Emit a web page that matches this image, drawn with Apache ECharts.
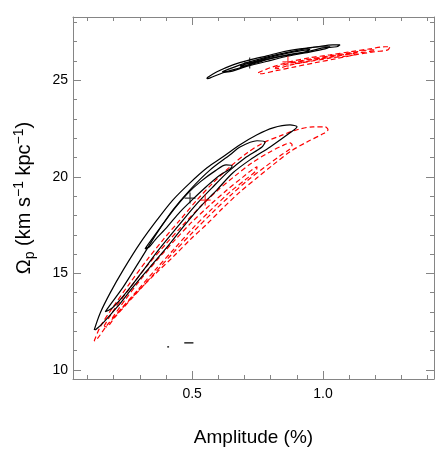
<!DOCTYPE html>
<html><head><meta charset="utf-8">
<script src="https://cdn.jsdelivr.net/npm/echarts@6/dist/echarts.min.js"></script>
<style>html,body{margin:0;padding:0;background:#fff}#c{width:436px;height:460px}</style>
</head><body><div id="c"></div>
<script>
// ---- tick labels ----
var xMajorTicks = [0.5, 1.0];
var xMinorTicks = [0.1,0.2,0.3,0.4,0.5,0.6,0.7,0.8,0.9,1.0,1.1,1.2,1.3,1.4];
var yMajorTicks = [10, 15, 20, 25];
var yMinorTicks = [10,11,12,13,14,15,16,17,18,19,20,21,22,23,24,25,26,27,28];

// ---- black (solid) contours, lower cluster ----
var blackLowOuter = [[0.126,12.07],[0.149,12.95],[0.187,13.99],[0.237,15.18],[0.302,16.58],[0.366,17.77],[0.427,18.81],[0.492,19.69],[0.557,20.47],[0.618,21.04],[0.683,21.66],[0.748,22.18],[0.809,22.54],[0.874,22.69],[0.901,22.59],[0.874,22.28],[0.798,21.55],[0.721,20.88],[0.656,20.21],[0.595,19.33],[0.531,18.45],[0.466,17.41],[0.405,16.37],[0.340,15.34],[0.275,14.30],[0.214,13.26],[0.160,12.44],[0.130,12.07]];
var blackLowMid = [[0.168,13.01],[0.187,13.37],[0.237,14.30],[0.302,15.70],[0.366,17.10],[0.427,18.29],[0.492,19.33],[0.569,20.36],[0.645,21.14],[0.683,21.55],[0.748,21.87],[0.779,21.81],[0.767,21.55],[0.702,20.98],[0.637,20.26],[0.576,19.43],[0.511,18.50],[0.447,17.46],[0.378,16.32],[0.309,15.08],[0.244,13.94],[0.195,13.21],[0.168,13.01]];
var blackLowInner = [[0.320,16.27],[0.336,16.58],[0.389,17.56],[0.435,18.39],[0.485,19.17],[0.531,19.74],[0.588,20.31],[0.630,20.62],[0.653,20.57],[0.645,20.41],[0.607,20.10],[0.557,19.53],[0.504,18.86],[0.454,18.19],[0.405,17.41],[0.359,16.74],[0.336,16.37],[0.320,16.27]];
var blackDot = [[0.405,11.19],[0.412,11.19]];
var blackDash = [[0.470,11.40],[0.505,11.40]];

// ---- red (dashed) contours, lower cluster ----
var redLowOuter = [[0.126,11.50],[0.149,12.23],[0.198,13.26],[0.263,14.51],[0.328,15.70],[0.389,16.74],[0.454,17.77],[0.519,18.81],[0.580,19.69],[0.645,20.52],[0.710,21.24],[0.771,21.76],[0.836,22.12],[0.901,22.44],[0.962,22.59],[1.008,22.59],[1.019,22.44],[1.000,22.23],[0.939,21.81],[0.874,21.30],[0.809,20.62],[0.748,19.95],[0.683,19.22],[0.618,18.39],[0.557,17.56],[0.492,16.74],[0.427,15.85],[0.359,14.97],[0.290,14.04],[0.237,13.26],[0.176,12.33],[0.137,11.60],[0.126,11.50]];
var redLowMid = [[0.164,12.28],[0.206,13.21],[0.263,14.25],[0.328,15.39],[0.397,16.48],[0.462,17.46],[0.531,18.45],[0.595,19.27],[0.664,20.05],[0.729,20.73],[0.790,21.24],[0.844,21.61],[0.874,21.76],[0.882,21.66],[0.874,21.45],[0.836,21.09],[0.779,20.52],[0.714,19.84],[0.645,19.02],[0.576,18.13],[0.504,17.15],[0.427,16.06],[0.351,14.92],[0.275,13.78],[0.206,12.75],[0.172,12.23],[0.164,12.28]];
var redLowInner = [[0.195,12.69],[0.244,13.63],[0.302,14.66],[0.370,15.75],[0.435,16.74],[0.500,17.67],[0.569,18.55],[0.634,19.33],[0.695,20.00],[0.733,20.41],[0.748,20.52],[0.744,20.31],[0.702,19.84],[0.645,19.22],[0.576,18.34],[0.504,17.36],[0.435,16.32],[0.359,15.18],[0.286,14.04],[0.225,13.11],[0.198,12.69],[0.195,12.69]];

// ---- black contours, upper cluster ----
var blackUpOuter = [[0.557,25.13],[0.595,25.44],[0.656,25.80],[0.721,26.06],[0.786,26.27],[0.847,26.48],[0.912,26.63],[0.977,26.74],[1.038,26.84],[1.065,26.84],[1.053,26.74],[1.000,26.68],[0.939,26.48],[0.874,26.32],[0.809,26.17],[0.748,25.91],[0.683,25.65],[0.618,25.39],[0.569,25.13],[0.557,25.08],[0.557,25.13]];
var blackUpMid = [[0.615,25.44],[0.683,25.80],[0.760,26.11],[0.836,26.37],[0.912,26.58],[0.989,26.74],[1.027,26.74],[1.008,26.63],[0.931,26.42],[0.855,26.22],[0.779,25.96],[0.702,25.70],[0.637,25.44],[0.615,25.44]];
var blackUpInner = [[0.683,25.75],[0.740,25.98],[0.800,26.20],[0.870,26.42],[0.950,26.60],[0.940,26.50],[0.870,26.33],[0.800,26.12],[0.740,25.92],[0.690,25.72],[0.683,25.75]];

// ---- red contours, upper cluster ----
var redUpOuter = [[0.752,25.39],[0.798,25.65],[0.874,25.96],[0.950,26.17],[1.027,26.32],[1.103,26.48],[1.179,26.63],[1.237,26.74],[1.256,26.74],[1.248,26.58],[1.198,26.48],[1.122,26.32],[1.046,26.11],[0.969,25.91],[0.893,25.70],[0.817,25.49],[0.760,25.34],[0.752,25.39]];
var redUpMid = [[0.817,25.65],[0.870,25.88],[0.950,26.10],[1.030,26.28],[1.110,26.44],[1.190,26.58],[1.200,26.55],[1.110,26.38],[1.030,26.20],[0.950,26.00],[0.870,25.78],[0.820,25.60],[0.817,25.65]];
var redUpInner = [[0.880,25.90],[0.950,26.06],[1.030,26.24],[1.120,26.40],[1.120,26.34],[1.030,26.16],[0.950,25.98],[0.890,25.86],[0.880,25.90]];

// ---- best-fit markers ----
var blackBest = [[0.492,18.90],[0.720,25.90]];
var redBest = [[0.550,18.80],[0.866,25.96]];

var FRAME = '#858585';
var FONT = 'Liberation Sans';

function contour(data, color, dashed) {
  return {
    type: 'line', data: data, xAxisIndex: 0, yAxisIndex: 0,
    showSymbol: false, symbol: 'none', smooth: 0.3, silent: true,
    lineStyle: { color: color, width: 1.2, type: dashed ? [5, 3] : 'solid' },
    z: dashed ? 3 : 4
  };
}
function marks(data, color) {
  return {
    type: 'scatter', data: data, xAxisIndex: 0, yAxisIndex: 0,
    symbol: 'path://M0,5L10,5M5,0L5,10', symbolSize: 11, silent: true,
    itemStyle: { color: 'none', borderColor: color, borderWidth: 1.2 }, z: 5
  };
}
function xAx(pos, ticks, len, label, showLine) {
  return {
    type: 'value', position: pos, min: 0.045, max: 1.424,
    axisLine: { show: showLine, onZero: false, lineStyle: { color: FRAME, width: 1 } },
    axisTick: { show: true, inside: true, length: len, customValues: ticks, lineStyle: { color: FRAME, width: 1 } },
    axisLabel: label ? { show: true, customValues: xMajorTicks, formatter: function (v) { return v.toFixed(1); }, color: '#000', fontFamily: FONT, fontSize: 14, margin: 8 } : { show: false },
    splitLine: { show: false }
  };
}
function yAx(pos, ticks, len, label, showLine) {
  return {
    type: 'value', position: pos, min: 9.53, max: 28.28,
    axisLine: { show: showLine, onZero: false, lineStyle: { color: FRAME, width: 1 } },
    axisTick: { show: true, inside: true, length: len, customValues: ticks, lineStyle: { color: FRAME, width: 1 } },
    axisLabel: label ? { show: true, customValues: yMajorTicks, formatter: function (v) { return String(Math.round(v)); }, color: '#000', fontFamily: FONT, fontSize: 14, margin: 5 } : { show: false },
    splitLine: { show: false }
  };
}

var xs = [xAx('bottom', xMinorTicks, 4, true, true), xAx('bottom', xMajorTicks, 8, false, false), xAx('top', xMinorTicks, 4, false, true), xAx('top', xMajorTicks, 8, false, false)];
xs[0].name = 'Amplitude (%)';
xs[0].nameLocation = 'middle';
xs[0].nameGap = 49;
xs[0].nameTextStyle = { color: '#000', fontFamily: FONT, fontSize: 19 };
var ys = [yAx('left', yMinorTicks, 4, true, true), yAx('left', yMajorTicks, 8, false, false), yAx('right', yMinorTicks, 4, false, true), yAx('right', yMajorTicks, 8, false, false)];
ys[0].name = '{a|Ω}{s|p}{a| (km s}{u|−1}{a| kpc}{u|−1}{a|)}';
ys[0].nameLocation = 'middle';
ys[0].nameRotate = 90;
ys[0].nameGap = 36;
ys[0].nameTextStyle = {
  color: '#000', fontFamily: FONT, fontSize: 20,
  rich: {
    a: { fontFamily: FONT, fontSize: 20, lineHeight: 25, color: '#000' },
    s: { fontFamily: FONT, fontSize: 14, lineHeight: 14, verticalAlign: 'bottom', color: '#000' },
    u: { fontFamily: FONT, fontSize: 14, lineHeight: 14, verticalAlign: 'top', color: '#000' }
  }
};

var chart = echarts.init(document.getElementById('c'), null, { renderer: 'canvas' });
chart.setOption({
  animation: false,
  backgroundColor: '#fff',
  grid: { left: 73, top: 17, width: 361, height: 362, containLabel: false },
  xAxis: xs,
  yAxis: ys,
  series: [
    contour(redLowOuter, '#ff0000', true),
    contour(redLowMid, '#ff0000', true),
    contour(redLowInner, '#ff0000', true),
    contour(redUpOuter, '#ff0000', true),
    contour(redUpMid, '#ff0000', true),
    contour(redUpInner, '#ff0000', true),
    contour(blackLowOuter, '#000000', false),
    contour(blackLowMid, '#000000', false),
    contour(blackLowInner, '#000000', false),
    contour(blackUpOuter, '#000000', false),
    contour(blackUpMid, '#000000', false),
    contour(blackUpInner, '#000000', false),
    contour(blackDot, '#000000', false),
    contour(blackDash, '#000000', false),
    marks(blackBest, '#000000'),
    marks(redBest, '#ff0000')
  ]
});
</script></body></html>
